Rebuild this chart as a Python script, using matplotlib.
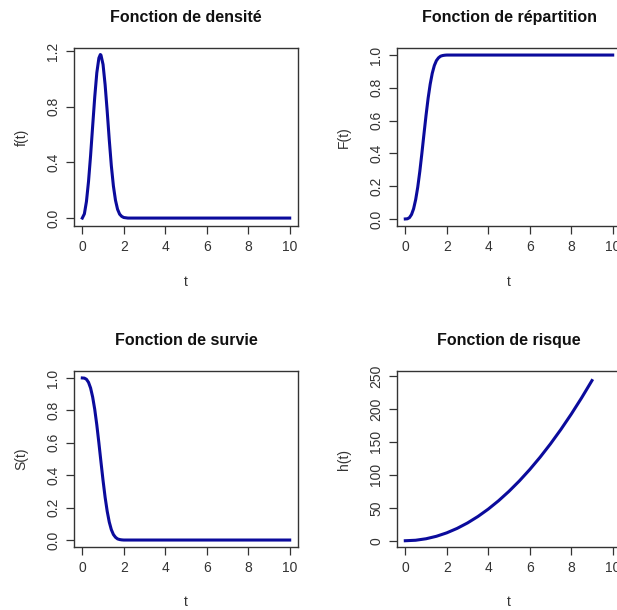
import matplotlib
matplotlib.use('Agg')
import matplotlib.pyplot as plt

plt.rcParams['font.family'] = ['Liberation Sans', 'DejaVu Sans']

# Weibull(shape 3, scale 1) curves, values read along t
t_dens = [0, 0.1, 0.2, 0.3, 0.4, 0.5, 0.6, 0.7, 0.8, 0.87, 0.9, 1.0, 1.1, 1.2,
          1.3, 1.4, 1.5, 1.6, 1.7, 1.8, 1.9, 2.0, 2.2, 10]
f_vals = [0, 0.030, 0.119, 0.263, 0.450, 0.662, 0.870, 1.044, 1.150, 1.175,
          1.171, 1.104, 0.958, 0.769, 0.563, 0.376, 0.230, 0.128, 0.063,
          0.028, 0.012, 0.004, 0.0, 0.0]
F_vals = [0, 0.001, 0.008, 0.027, 0.062, 0.118, 0.194, 0.290, 0.401, 0.483,
          0.518, 0.632, 0.736, 0.822, 0.889, 0.936, 0.966, 0.983, 0.993,
          0.997, 0.999, 1.0, 1.0, 1.0]
S_vals = [1 - v for v in F_vals]

t_haz = [0, 0.5, 1.0, 1.5, 2.0, 2.5, 3.0, 3.5, 4.0, 4.5, 5.0, 5.5, 6.0, 6.5,
         7.0, 7.5, 8.0, 8.5, 9.0]
h_vals = [0, 0.75, 3, 6.75, 12, 18.75, 27, 36.75, 48, 60.75, 75, 90.75, 108,
          126.75, 147, 168.75, 192, 216.75, 243]

x_ticks = [0, 2, 4, 6, 8, 10]

W, H = 617, 610
fig = plt.figure(figsize=(W / 100, H / 100), dpi=100)

def make_ax(left, top, right, bottom):
    return fig.add_axes([left / W, 1 - bottom / H, (right - left) / W, (bottom - top) / H])

def style(ax, title, ylab, yticks, ylim):
    ax.set_xlim(-0.4, 10.4)
    ax.set_ylim(*ylim)
    ax.set_xticks(x_ticks)
    ax.set_yticks(yticks)
    ax.set_yticklabels([str(v) for v in yticks] if isinstance(yticks[0], int)
                       else ['%.1f' % v for v in yticks])
    ax.tick_params(direction='out', length=6, width=0.9, labelsize=10,
                   colors='#333333', pad=4)
    ax.tick_params(axis='y', labelrotation=90)
    plt.setp(ax.get_yticklabels(), va='center')
    for sp in ax.spines.values():
        sp.set_linewidth(1.0)
        sp.set_color('#333333')
    ax.set_title(title, fontsize=11.5, fontweight='bold', pad=19, color='#111111')
    ax.set_xlabel('t', fontsize=10, color='#333333')
    ax.set_ylabel(ylab, fontsize=10, color='#333333')
    ax.xaxis.set_label_coords(0.5, -0.315)
    ax.xaxis.label.set_va('center')
    ax.yaxis.set_label_coords(-0.235, 0.5)
    ax.yaxis.label.set_va('center')

col = '#0b0b9c'
lw = 2.2

ax1 = make_ax(74, 48, 298, 226)
ax1.plot(t_dens, f_vals, color=col, linewidth=lw)
style(ax1, 'Fonction de densité', 'f(t)', [0.0, 0.4, 0.8, 1.2], (-0.057, 1.222))

ax2 = make_ax(397, 48, 621, 226)
ax2.plot(t_dens, F_vals, color=col, linewidth=lw)
style(ax2, 'Fonction de répartition', 'F(t)', [0.0, 0.2, 0.4, 0.6, 0.8, 1.0], (-0.043, 1.043))

ax3 = make_ax(74, 371, 298, 547)
ax3.plot(t_dens, S_vals, color=col, linewidth=lw)
style(ax3, 'Fonction de survie', 'S(t)', [0.0, 0.2, 0.4, 0.6, 0.8, 1.0], (-0.043, 1.043))

ax4 = make_ax(397, 371, 621, 547)
ax4.plot(t_haz, h_vals, color=col, linewidth=lw)
style(ax4, 'Fonction de risque', 'h(t)', [0, 50, 100, 150, 200, 250], (-9.5, 257.5))

fig.savefig('out.png', dpi=100)
